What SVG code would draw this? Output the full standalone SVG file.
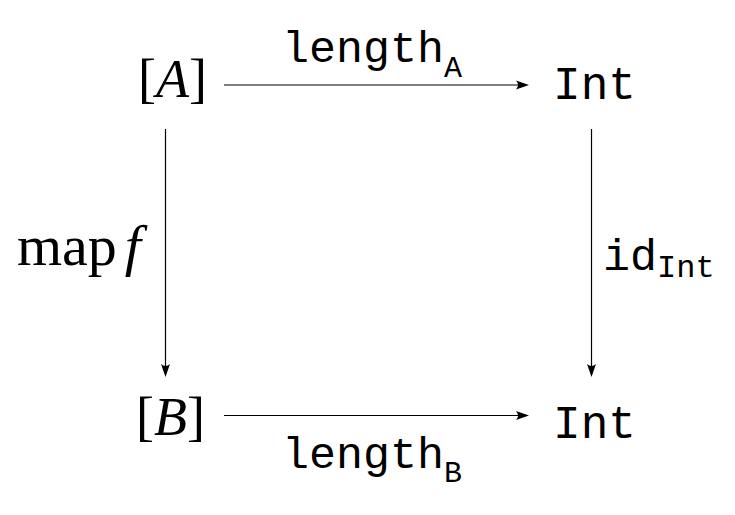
<svg xmlns="http://www.w3.org/2000/svg" width="735" height="515" viewBox="0 0 735 515">
<defs>
<style>
.math{font-family:"Liberation Serif","Times New Roman",serif;fill:#000}
.it{font-style:italic}
.tt{font-family:"Liberation Mono","Courier New",monospace;fill:#000}
.edge{stroke:#000;stroke-width:1.2;fill:none}
.head{fill:#000}
</style>
</defs>
<rect width="735" height="515" fill="#fff"/>
<g id="nodeA">
<text class="math" x="138" y="97" font-size="54">[<tspan class="it">A</tspan>]</text>
</g>
<g id="nodeIntTop">
<text class="tt" x="594.5" y="99" font-size="46" text-anchor="middle">Int</text>
</g>
<g id="nodeB">
<text class="math" x="136" y="435" font-size="54">[<tspan class="it">B</tspan>]</text>
</g>
<g id="nodeIntBottom">
<text class="tt" x="594.5" y="438" font-size="46" text-anchor="middle">Int</text>
</g>
<g id="connectors">
<line class="edge" x1="224" y1="85" x2="526" y2="85"/>
<path class="head" d="M529,85 L516,80.5 Q520,85 516,89.5 Z"/>
<line class="edge" x1="224" y1="415.5" x2="526" y2="415.5"/>
<path class="head" d="M529,415.5 L516,411 Q520,415.5 516,420 Z"/>
<line class="edge" x1="165.5" y1="129" x2="165.5" y2="374"/>
<path class="head" d="M165.5,377 L161,364 Q165.5,368 170,364 Z"/>
<line class="edge" x1="591.5" y1="129" x2="591.5" y2="374"/>
<path class="head" d="M591.5,377 L587,364 Q591.5,368 596,364 Z"/>
</g>
<g id="labels">
<text class="tt" x="282" y="62" font-size="45">length<tspan font-size="30" dy="15">A</tspan></text>
<text class="tt" x="282" y="468" font-size="45">length<tspan font-size="30" dy="14">B</tspan></text>
<text class="math" x="17" y="265" font-size="58">map<tspan class="it" dx="8">f</tspan></text>
<text class="tt" x="603" y="270" font-size="45">id<tspan font-size="32" dy="7">Int</tspan></text>
</g>
</svg>
